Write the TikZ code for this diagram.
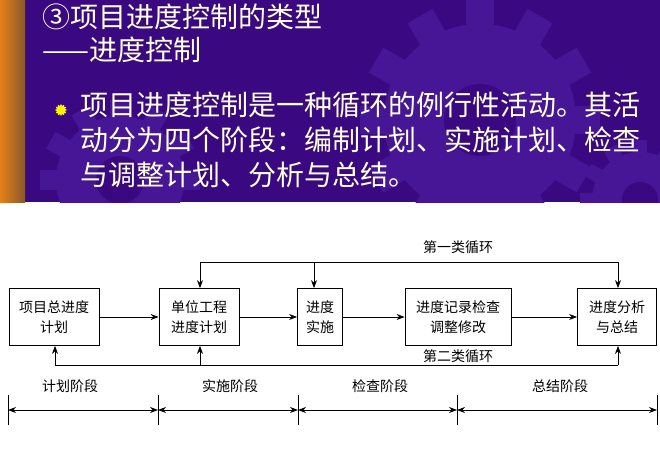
\documentclass[tikz,border=0pt]{standalone}
\usepackage{fontspec}
\newfontfamily\cjk{Noto Sans CJK SC}
\usetikzlibrary{arrows.meta,shapes.geometric}
\definecolor{slide}{RGB}{58,8,128}
\definecolor{gear}{RGB}{70,22,150}
\definecolor{cream}{RGB}{255,255,225}
\tikzset{
 bx/.style={draw,thick,minimum height=57pt,align=center,font=\cjk\fontsize{14}{20}\selectfont,inner sep=2pt},
 ar/.style={thick,-{Stealth[length=8pt,width=6pt]}},
 lbl/.style={font=\cjk\fontsize{14}{16}\selectfont},
 tl/.style={font=\cjk\fontsize{28}{35}\selectfont,text=cream,anchor=west,align=left,inner sep=0pt},
}
\begin{document}
\begin{tikzpicture}[x=1pt,y=-1pt]
\useasboundingbox (0,0) rectangle (660,449);
\fill[white] (0,0) rectangle (660,449);
\fill[slide] (0,0) rectangle (660,202);
\begin{scope}
\clip (25,0) rectangle (660,202);
\foreach \cx/\cy/\r in {480/120/120, 120/180/80, 640/200/60}{
  \fill[gear] (\cx,\cy) circle (\r*0.8);
  \foreach \a in {0,30,...,330}
    \fill[gear,rotate around={\a:(\cx,\cy)}] (\cx-\r*0.12,\cy) rectangle (\cx+\r*0.12,\cy-\r);
  \fill[slide] (\cx,\cy) circle (\r*0.3);
}
\end{scope}
\shade[left color=orange!60!brown,right color=brown!70!black] (0,0) rectangle (25,202);
\node[tl] (t1) at (42,17) {③项目进度控制的类型};
\node[tl] (t2) at (42,50) {——进度控制};
\node[star,star points=12,star point ratio=1.4,fill=yellow,inner sep=0pt,minimum size=12pt] (bul) at (61,110) {};
\node[tl,anchor=north west] (t3) at (80,92) {项目进度控制是一种循环的例行性活动。其活\\动分为四个阶段：编制计划、实施计划、检查\\与调整计划、分析与总结。};
\node[bx,minimum width=90pt] (b1) at (54,317) {项目总进度\\计划};
\node[bx,minimum width=80pt] (b2) at (199,317) {单位工程\\进度计划};
\node[bx,minimum width=45pt] (b3) at (320,317) {进度\\实施};
\node[bx,minimum width=106pt] (b4) at (458,317) {进度记录检查\\调整修改};
\node[bx,minimum width=79pt] (b5) at (617,317) {进度分析\\与总结};
\draw[ar] (b1) -- (b2);
\draw[ar] (b2) -- (b3);
\draw[ar] (b3) -- (b4);
\draw[ar] (b4) -- (b5);
\coordinate (ta) at (200,262); \coordinate (tb) at (314,262); \coordinate (tc) at (618,262);
\draw[thick] (ta) -- (tc);
\draw[ar] (ta) -- (ta|-b2.north);
\draw[ar] (tb) -- (tb|-b3.north);
\draw[ar] (tc) -- (tc|-b5.north);
\node[lbl] (l1) at (458,247) {第一类循环};
\coordinate (ua) at (55,365); \coordinate (ub) at (200,365); \coordinate (uc) at (618,365);
\draw[thick] (ua) -- (uc);
\draw[ar] (ua) -- (ua|-b1.south);
\draw[ar] (ub) -- (ub|-b2.south);
\draw[ar] (uc) -- (uc|-b5.south);
\node[lbl,fill=white,inner sep=1pt] (l2) at (458,356) {第二类循环};
\foreach \n/\x in {p0/8,p1/158,p2/298,p3/457,p4/657}{
  \coordinate (\n) at (\x,410);
  \draw (\x,395) -- (\x,425);
}
\tikzset{dar/.style={thick,{Stealth[length=8pt,width=6pt]}-{Stealth[length=8pt,width=6pt]}}}
\draw[dar] (p0) -- (p1);
\draw[dar] (p1) -- (p2);
\draw[dar] (p2) -- (p3);
\draw[dar] (p3) -- (p4);
\node[lbl] (s1) at (70,386) {计划阶段};
\node[lbl] (s2) at (230,386) {实施阶段};
\node[lbl] (s3) at (380,386) {检查阶段};
\node[lbl] (s4) at (560,386) {总结阶段};
\end{tikzpicture}
\end{document}
